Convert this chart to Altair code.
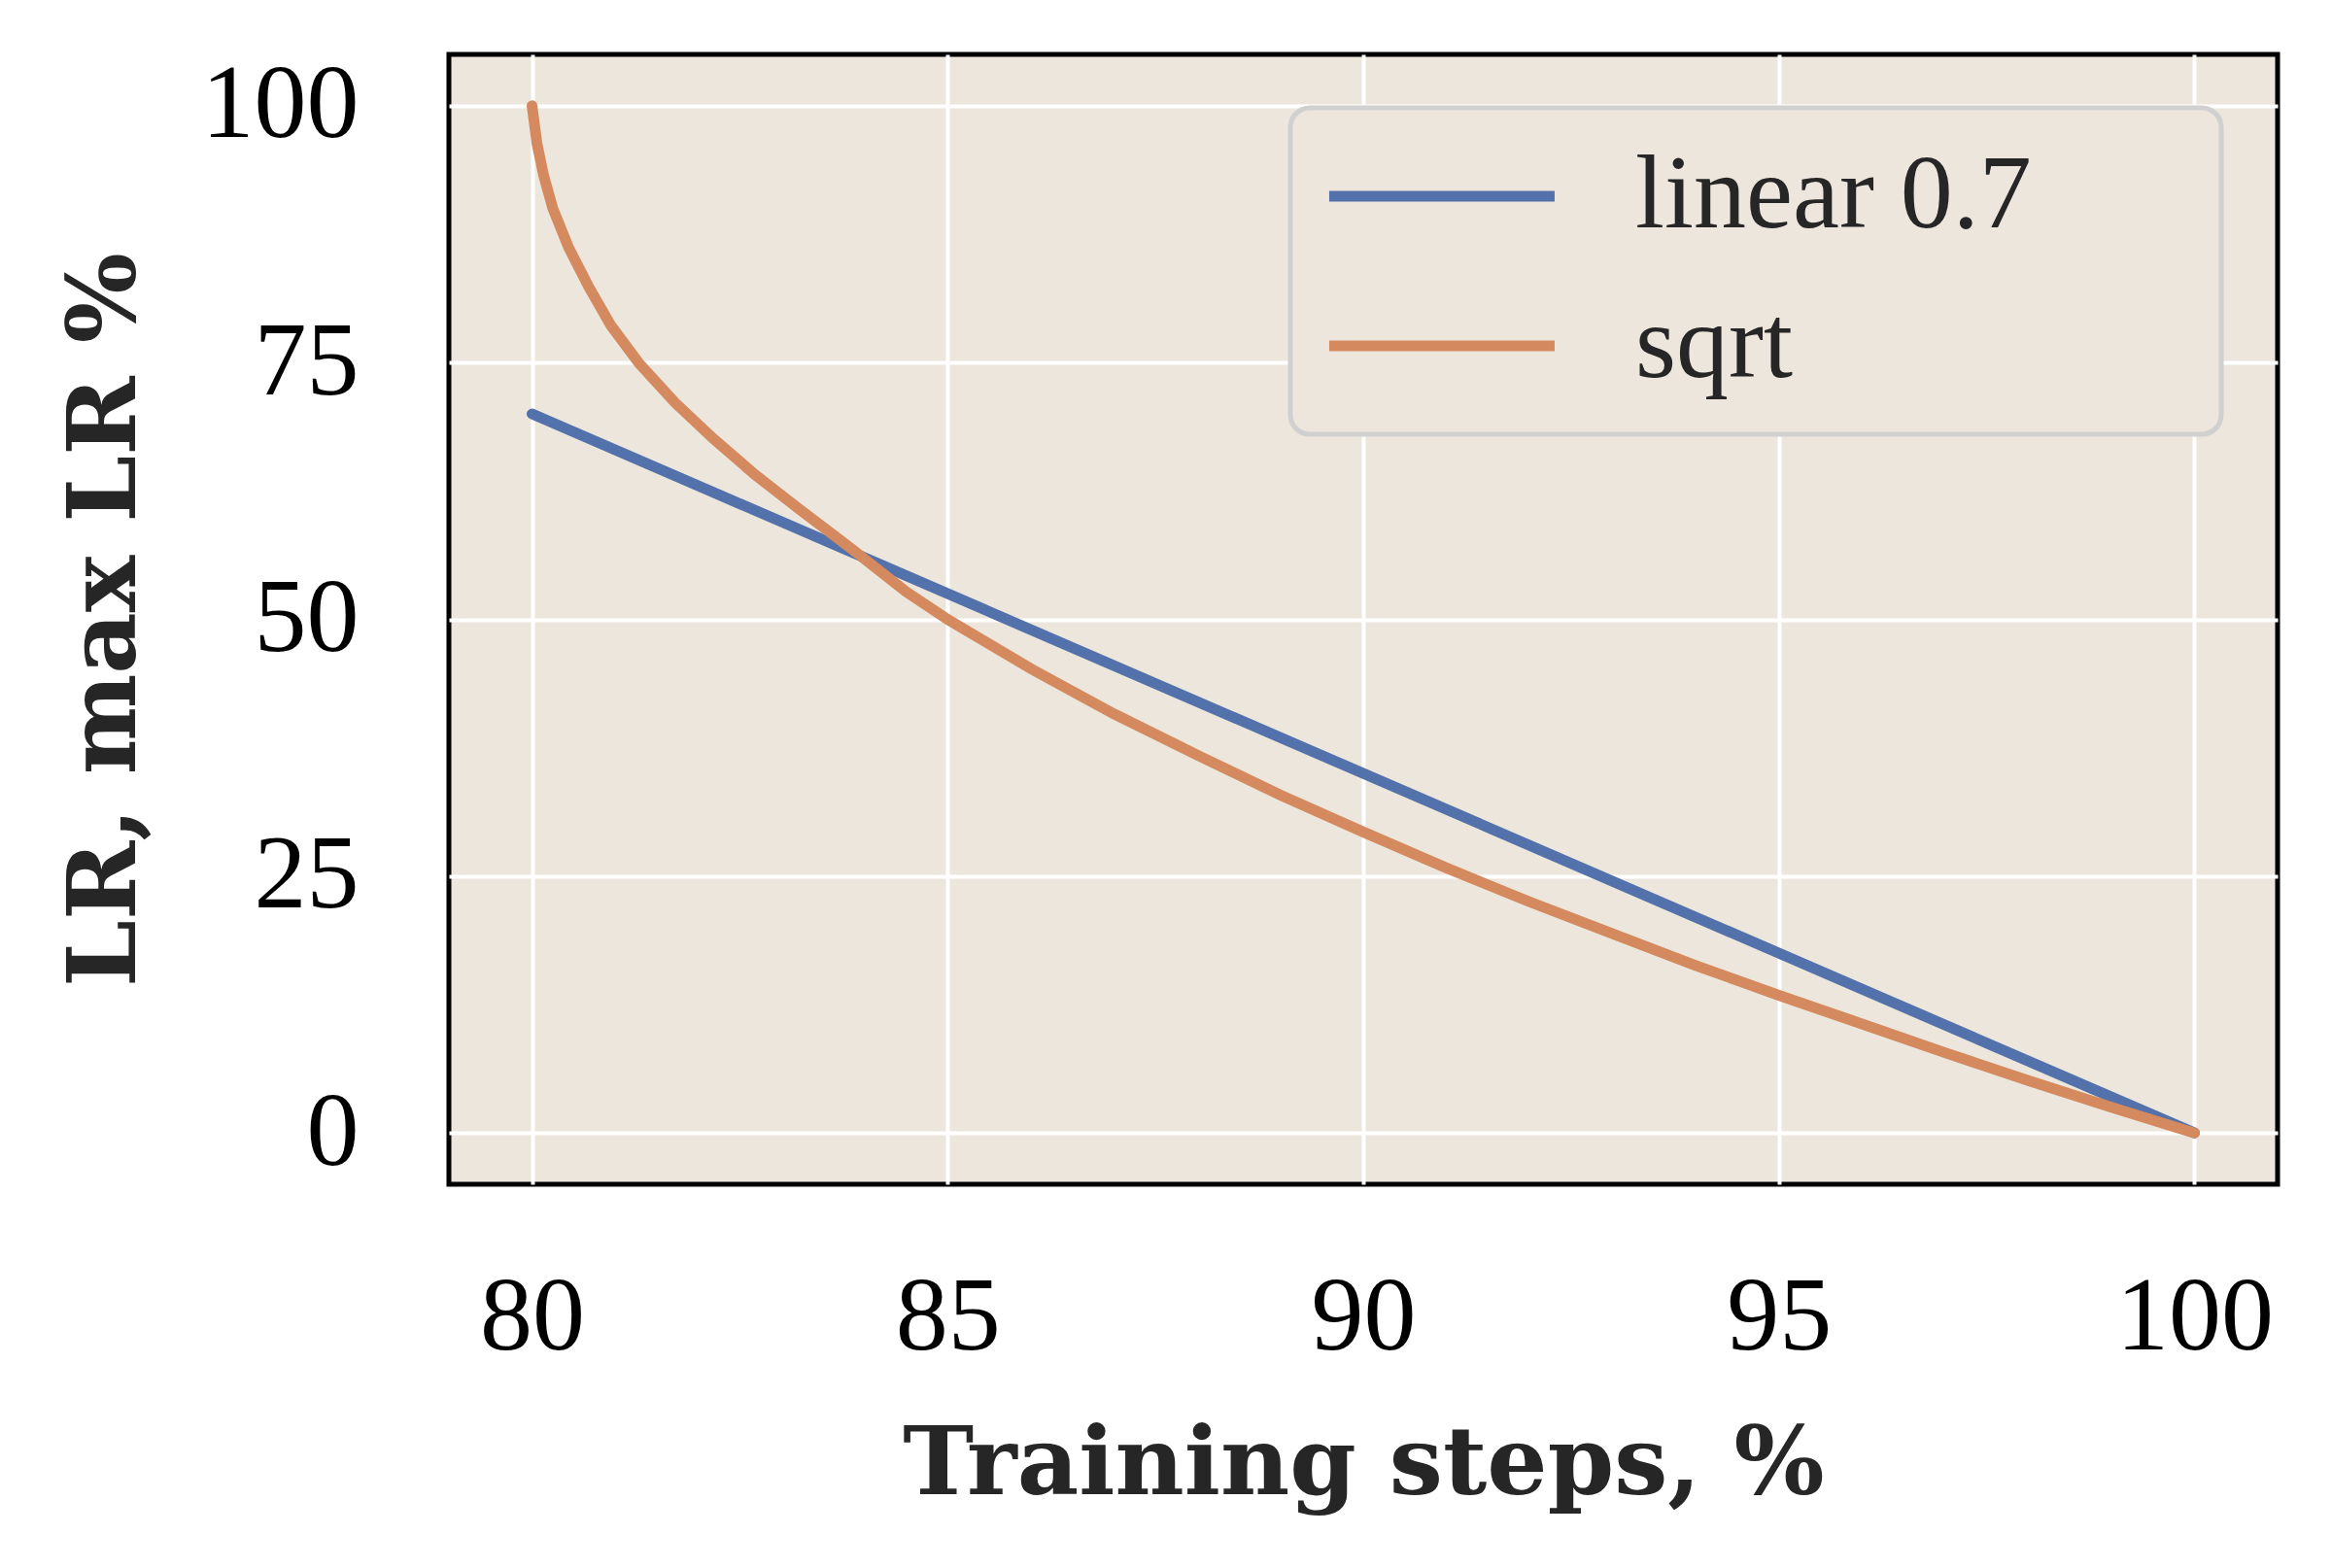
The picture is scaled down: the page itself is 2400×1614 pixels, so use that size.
import altair as alt
import pandas as pd

# values
linear_x = [80, 100]
linear_y = [70, 0]

sqrt_x = [80, 80.06, 80.14, 80.25, 80.44, 80.68, 80.95, 81.29, 81.72, 82.18, 82.68,
          83.22, 83.84, 84.5, 85, 86, 87, 88, 89, 90, 91, 92, 93, 94, 95, 96, 97,
          98, 99, 100]
sqrt_y = [100, 96.3, 93.2, 90, 86.2, 82.4, 78.6, 74.9, 71.1, 67.6, 64.1,
          60.7, 56.9, 52.7, 50, 45.2, 40.8, 36.8, 32.9, 29.3, 25.8, 22.5, 19.4,
          16.3, 13.4, 10.6, 7.8, 5.1, 2.5, 0]

series = ["linear 0.7", "sqrt"]
colors = ["#5372AC", "#D48A5E"]
x_ticks = [80, 85, 90, 95, 100]
y_ticks = [0, 25, 50, 75, 100]

df = pd.concat([
    pd.DataFrame({"step": linear_x, "lr": linear_y, "schedule": series[0], "order": range(len(linear_x))}),
    pd.DataFrame({"step": sqrt_x, "lr": sqrt_y, "schedule": series[1], "order": range(len(sqrt_x))}),
])

FONT = "Liberation Serif"
TITLE_FONT = "DejaVu Serif"
BG = "#ECE6DC"

# legend line: a short path stretched to ~232px (path units scaled by sqrt(size)/2)
LEG_PATH = "M-4.4,0H15.6"
# blank (non-whitespace) glyphs widen the legend box like matplotlib's
PAD_CHARS = "\u2800\u2800"

chart = (
    alt.Chart(df)
    .mark_line(strokeWidth=11, strokeCap="round", clip=True)
    .encode(
        x=alt.X("step:Q", title="Training steps, %",
                scale=alt.Scale(domain=[79, 101], nice=False, zero=False),
                axis=alt.Axis(values=x_ticks, format="d", labelPadding=84, titlePadding=50)),
        y=alt.Y("lr:Q", title="LR, max LR %",
                scale=alt.Scale(domain=[-5, 105], nice=False),
                axis=alt.Axis(values=y_ticks, format="d", labelPadding=93, titlePadding=103)),
        color=alt.Color("schedule:N", title=None,
                        scale=alt.Scale(domain=series, range=colors),
                        legend=alt.Legend(orient="none", legendX=866, legendY=55,
                                          symbolType=LEG_PATH, symbolSize=23.2 * 23.2,
                                          symbolStrokeWidth=11, labelOffset=210,
                                          labelFontSize=108, labelFont=FONT,
                                          labelColor="#262626", rowPadding=46,
                                          padding=37, fillColor=BG,
                                          strokeColor="#D0D0D0", cornerRadius=20,
                                          labelExpr=f"datum.label + '{PAD_CHARS}'",
                                          labelLimit=1000)),
        order="order:Q",
    )
    .properties(width=1882, height=1163, background="white",
                padding={"left": 52, "top": 46, "right": 25, "bottom": 20})
    .configure_view(fill=BG, stroke="black", strokeWidth=5)
    .configure_legend(strokeWidth=5)
    .configure_axis(
        grid=True, gridColor="white", gridWidth=4, ticks=False, domain=False,
        labelFont=FONT, labelFontSize=108, labelColor="black",
        titleFont=TITLE_FONT, titleFontSize=98, titleFontWeight="bold", titleColor="#262626",
    )
)

chart.save("out.html", embed_options={"renderer": "svg", "actions": False})
